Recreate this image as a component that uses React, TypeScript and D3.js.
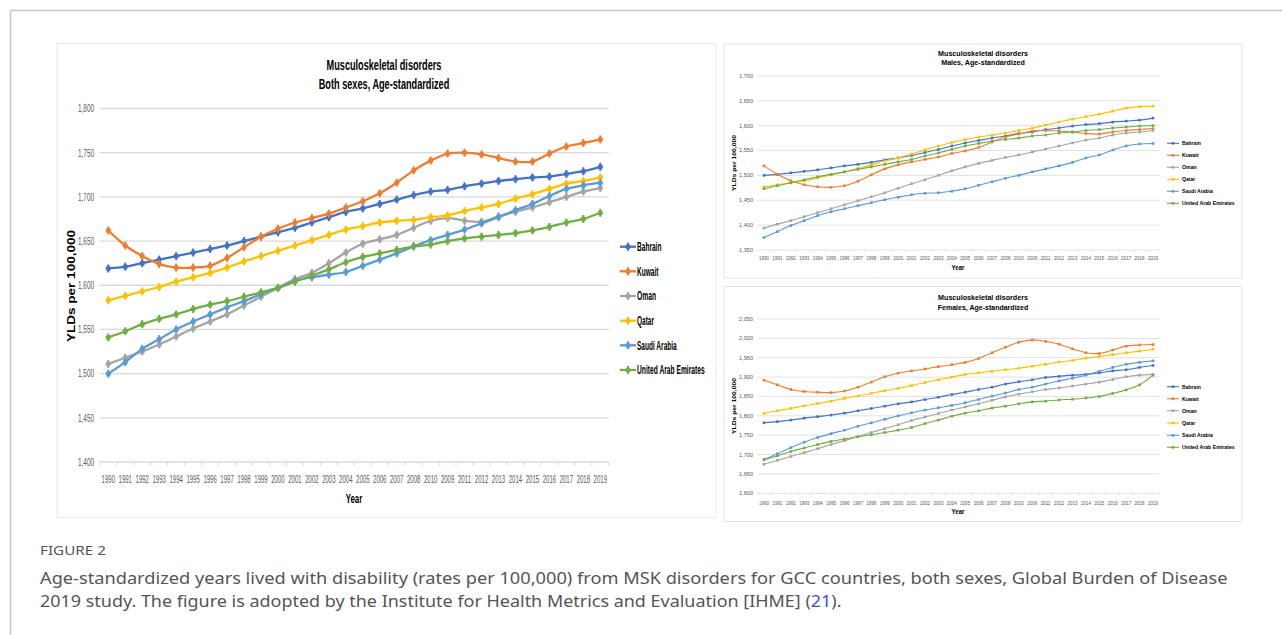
import React from "react";
import * as d3 from "d3";

// Category labels exactly as printed (2010 and 2009 are swapped in the source)
const years = [
  "1990","1991","1992","1993","1994","1995","1996","1997","1998","1999",
  "2000","2001","2002","2003","2004","2005","2006","2007","2008","2010",
  "2009","2011","2012","2013","2014","2015","2016","2017","2018","2019",
];
const countries = ["Bahrain", "Kuwait", "Oman", "Qatar", "Saudi Arabia", "United Arab Emirates"];
const colors = ["#4472C4", "#ED7D31", "#A5A5A5", "#FFC000", "#5B9BD5", "#70AD47"];

// Both sexes
const bahrainBoth = [1619,1621,1625,1629,1633,1637,1641,1645,1650,1655,1660,1665,1671,1677,1683,1687,1692,1697,1702,1706,1708,1712,1715,1718,1720,1722,1723,1726,1729,1734];
const kuwaitBoth = [1662,1645,1633,1624,1620,1620,1622,1631,1643,1655,1664,1671,1676,1681,1688,1695,1704,1716,1730,1741,1749,1750,1748,1744,1740,1740,1749,1757,1761,1765];
const omanBoth = [1511,1518,1525,1533,1542,1551,1559,1567,1577,1587,1597,1607,1614,1625,1637,1647,1652,1657,1665,1673,1676,1673,1672,1678,1683,1688,1694,1700,1706,1710];
const qatarBoth = [1583,1588,1593,1598,1604,1609,1614,1620,1627,1633,1639,1645,1651,1657,1663,1667,1671,1673,1674,1677,1679,1684,1688,1692,1698,1703,1709,1715,1718,1722];
const saudiBoth = [1500,1513,1528,1539,1550,1559,1567,1575,1582,1590,1597,1605,1609,1612,1615,1622,1629,1636,1644,1651,1657,1663,1670,1677,1685,1692,1701,1709,1713,1716];
const uaeBoth = [1541,1548,1556,1562,1567,1573,1578,1582,1587,1592,1597,1604,1611,1618,1626,1632,1636,1640,1644,1646,1650,1653,1655,1657,1659,1662,1666,1671,1675,1682];

// Males
const bahrainMale = [1500,1502,1505,1508,1511,1515,1519,1522,1526,1531,1535,1540,1546,1552,1559,1565,1570,1575,1579,1584,1587,1592,1595,1599,1602,1604,1607,1609,1611,1615];
const kuwaitMale = [1519,1502,1489,1481,1477,1476,1479,1488,1501,1513,1521,1527,1532,1537,1544,1549,1556,1567,1577,1583,1589,1590,1589,1587,1584,1583,1587,1590,1592,1594];
const omanMale = [1394,1402,1409,1417,1425,1433,1441,1449,1457,1465,1474,1483,1491,1500,1509,1517,1524,1530,1536,1541,1547,1553,1559,1565,1571,1575,1581,1585,1587,1590];
const qatarMale = [1477,1481,1485,1489,1495,1501,1507,1514,1521,1529,1535,1543,1551,1559,1566,1572,1577,1581,1585,1590,1595,1601,1607,1613,1618,1623,1629,1635,1638,1639];
const saudiMale = [1375,1387,1399,1409,1419,1427,1433,1439,1445,1451,1456,1461,1464,1465,1468,1473,1480,1487,1494,1500,1507,1513,1519,1526,1535,1541,1551,1559,1563,1564];
const uaeMale = [1473,1479,1485,1491,1497,1502,1507,1512,1517,1522,1527,1532,1539,1545,1552,1559,1564,1569,1572,1575,1579,1581,1585,1587,1590,1592,1595,1597,1599,1600];

// Females
const bahrainFemale = [1782,1785,1789,1794,1798,1802,1807,1813,1819,1825,1831,1836,1842,1848,1855,1861,1868,1874,1882,1888,1893,1899,1902,1905,1907,1911,1916,1919,1925,1930];
const kuwaitFemale = [1892,1880,1868,1863,1861,1860,1864,1874,1887,1901,1910,1916,1921,1927,1932,1938,1948,1963,1977,1990,1996,1992,1985,1973,1963,1961,1970,1980,1983,1984];
const omanFemale = [1675,1685,1695,1705,1715,1726,1736,1746,1757,1767,1777,1788,1797,1806,1815,1823,1831,1840,1849,1856,1862,1868,1872,1877,1882,1887,1894,1901,1905,1907];
const qatarFemale = [1806,1813,1819,1826,1832,1838,1845,1851,1858,1865,1871,1878,1886,1893,1900,1907,1911,1915,1919,1923,1928,1933,1939,1943,1949,1953,1958,1963,1967,1972];
const saudiFemale = [1687,1702,1718,1732,1744,1754,1763,1773,1782,1791,1800,1808,1815,1821,1827,1834,1842,1851,1859,1868,1874,1882,1890,1897,1905,1915,1925,1933,1938,1942];
const uaeFemale = [1687,1697,1708,1717,1726,1734,1740,1746,1751,1757,1763,1770,1780,1789,1799,1807,1813,1820,1825,1831,1836,1838,1841,1843,1846,1850,1858,1867,1880,1905];

const titleLine1 = "Musculoskeletal disorders";
const titleBoth = "Both sexes, Age-standardized";
const titleMale = "Males, Age-standardized";
const titleFemale = "Females, Age-standardized";
const yAxisTitle = "YLDs per 100,000";
const xAxisTitle = "Year";

const bothSeries = [bahrainBoth, kuwaitBoth, omanBoth, qatarBoth, saudiBoth, uaeBoth];
const maleSeries = [bahrainMale, kuwaitMale, omanMale, qatarMale, saudiMale, uaeMale];
const femaleSeries = [bahrainFemale, kuwaitFemale, omanFemale, qatarFemale, saudiFemale, uaeFemale];

const NARROW = "'Liberation Sans Narrow', 'Liberation Sans', Arial, sans-serif";
const SANS = "'Liberation Sans', Arial, sans-serif";
const CAPTION = "'Noto Sans', 'Open Sans', sans-serif";

let measureCtx: CanvasRenderingContext2D | null = null;
function natWidth(str: string, size: number, family: string, weight: string): number {
  if (!measureCtx && typeof document !== "undefined") {
    measureCtx = document.createElement("canvas").getContext("2d");
  }
  if (!measureCtx) return str.length * size * 0.55;
  measureCtx.font = `${weight} ${size}px ${family}`;
  return measureCtx.measureText(str).width || str.length * size * 0.55;
}

type FitProps = {
  x: number; y: number; width: number; size: number; family: string;
  weight?: string; anchor?: "start" | "middle" | "end"; fill?: string; rotate?: number;
  children: string;
};
function FitText({ x, y, width, size, family, weight = "normal", anchor = "start", fill = "#000", rotate = 0, children }: FitProps) {
  const nat = natWidth(children, size, family, weight);
  const s = width / nat;
  const rot = rotate ? ` rotate(${rotate})` : "";
  return (
    <text
      transform={`translate(${x},${y})${rot} scale(${s.toFixed(4)},1)`}
      dy="0.35em"
      textAnchor={anchor}
      fontSize={size}
      fontFamily={family}
      fontWeight={weight}
      fill={fill}
    >
      {children}
    </text>
  );
}

type Cfg = {
  big: boolean;
  xFirst: number; xLast: number;
  yTop: number; yBottom: number;
  domain: [number, number]; tickStep: number;
  tickLabelX: number; tickFont: number; tickLen: number;
  yearY: number; yearFont: number; yearLen: number;
  titleX: number; titleY1: number; titleY2: number; titleFont: number; titleLen1: number; titleLen2: number;
  subtitle: string;
  yTitleX: number; yTitleY: number; yTitleFont: number; yTitleLen: number;
  xTitleX: number; xTitleY: number; xTitleFont: number; xTitleLen: number;
  legX0: number; legX1: number; legTextX: number; legYs: number[]; legFont: number; legLens: number[];
  lineW: number;
  font: string;
};

function Marker({ cx, cy, color, big }: { cx: number; cy: number; color: string; big: boolean }) {
  if (big) {
    return (
      <g>
        <line x1={cx} x2={cx} y1={cy - 4} y2={cy + 4} stroke={color} strokeWidth={2} />
        <circle cx={cx} cy={cy} r={2.6} fill={color} />
      </g>
    );
  }
  return <rect x={cx - 1.3} y={cy - 1.3} width={2.6} height={2.6} fill={color} />;
}

function Panel({ cfg, series }: { cfg: Cfg; series: number[][] }) {
  const x = d3.scalePoint<string>().domain(years).range([cfg.xFirst, cfg.xLast]);
  const step = x.step();
  const left = cfg.xFirst - step / 2;
  const right = cfg.xLast + step / 2;
  const y = d3.scaleLinear().domain(cfg.domain).range([cfg.yBottom, cfg.yTop]);
  const ticks = d3.range(cfg.domain[0], cfg.domain[1] + 1, cfg.tickStep);
  const fmt = d3.format(",");
  const line = d3
    .line<number>()
    .x((_, i) => x(years[i]) as number)
    .y((d) => y(d))
    .curve(d3.curveCatmullRom.alpha(0.5));
  const boundaries = d3.range(0, years.length + 1).map((i) => left + i * step);

  return (
    <g>
      {ticks.map((t) => (
        <g key={t}>
          <line x1={left} x2={right} y1={y(t)} y2={y(t)} stroke="#d9d9d9" strokeWidth={cfg.big ? 1.3 : 0.8} />
          <FitText x={cfg.tickLabelX} y={y(t)} width={cfg.tickLen} size={cfg.tickFont} family={cfg.font} anchor="end" fill="#595959">
            {fmt(t)}
          </FitText>
        </g>
      ))}
      {boundaries.map((bx, i) => (
        <line key={i} x1={bx} x2={bx} y1={cfg.yBottom} y2={cfg.yBottom + (cfg.big ? 4 : 2.5)} stroke="#d9d9d9" strokeWidth={cfg.big ? 1 : 0.6} />
      ))}
      {years.map((yr) => (
        <FitText key={yr} x={x(yr) as number} y={cfg.yearY} width={cfg.yearLen} size={cfg.yearFont} family={cfg.font} anchor="middle" fill="#595959">
          {yr}
        </FitText>
      ))}
      {series.map((s, k) => (
        <g key={countries[k]}>
          <path d={line(s) as string} fill="none" stroke={colors[k]} strokeWidth={cfg.lineW} />
          {s.map((v, i) => (
            <Marker key={i} cx={x(years[i]) as number} cy={y(v)} color={colors[k]} big={cfg.big} />
          ))}
        </g>
      ))}
      <FitText x={cfg.titleX} y={cfg.titleY1} width={cfg.titleLen1} size={cfg.titleFont} family={cfg.font} weight="bold" anchor="middle">
        {titleLine1}
      </FitText>
      <FitText x={cfg.titleX} y={cfg.titleY2} width={cfg.titleLen2} size={cfg.titleFont} family={cfg.font} weight="bold" anchor="middle">
        {cfg.subtitle}
      </FitText>
      <FitText x={cfg.yTitleX} y={cfg.yTitleY} width={cfg.yTitleLen} size={cfg.yTitleFont} family={SANS} weight="bold" anchor="middle" rotate={-90}>
        {yAxisTitle}
      </FitText>
      <FitText x={cfg.xTitleX} y={cfg.xTitleY} width={cfg.xTitleLen} size={cfg.xTitleFont} family={cfg.font} weight="bold" anchor="middle">
        {xAxisTitle}
      </FitText>
      {countries.map((c, k) => (
        <g key={c}>
          <line x1={cfg.legX0} x2={cfg.legX1} y1={cfg.legYs[k]} y2={cfg.legYs[k]} stroke={colors[k]} strokeWidth={cfg.lineW} />
          <Marker cx={(cfg.legX0 + cfg.legX1) / 2} cy={cfg.legYs[k]} color={colors[k]} big={cfg.big} />
          <FitText x={cfg.legTextX} y={cfg.legYs[k]} width={cfg.legLens[k]} size={cfg.legFont} family={cfg.font} weight="bold">
            {c}
          </FitText>
        </g>
      ))}
    </g>
  );
}

const mainCfg: Cfg = {
  big: true,
  xFirst: 108.3, xLast: 600.3,
  yTop: 108.5, yBottom: 462,
  domain: [1400, 1800], tickStep: 50,
  tickLabelX: 94, tickFont: 11, tickLen: 16,
  yearY: 479, yearFont: 11, yearLen: 13.4,
  titleX: 384, titleY1: 65, titleY2: 83.5, titleFont: 15, titleLen1: 115, titleLen2: 131,
  subtitle: titleBoth,
  yTitleX: 71, yTitleY: 286, yTitleFont: 11, yTitleLen: 112,
  xTitleX: 354, xTitleY: 498, xTitleFont: 13, xTitleLen: 16.5,
  legX0: 620, legX1: 636, legTextX: 637, legYs: [246.7, 271.3, 296, 320.7, 345.3, 370], legFont: 12,
  legLens: [24.5, 21.4, 19, 17, 40, 68],
  lineW: 2.3,
  font: NARROW,
};

const maleCfg: Cfg = {
  big: false,
  xFirst: 764, xLast: 1153,
  yTop: 75.8, yBottom: 250,
  domain: [1350, 1700], tickStep: 50,
  tickLabelX: 753, tickFont: 5.5, tickLen: 14,
  yearY: 258.3, yearFont: 5.5, yearLen: 10,
  titleX: 983, titleY1: 53.3, titleY2: 62.7, titleFont: 7.5, titleLen1: 90, titleLen2: 84,
  subtitle: titleMale,
  yTitleX: 733.5, yTitleY: 163, yTitleFont: 6, yTitleLen: 56,
  xTitleX: 958, xTitleY: 267.7, xTitleFont: 6.5, xTitleLen: 13,
  legX0: 1167, legX1: 1179, legTextX: 1182, legYs: [143.3, 155.3, 167.3, 179.3, 191.3, 203.3], legFont: 6,
  legLens: [19, 16.7, 14.8, 13.3, 31, 53],
  lineW: 1.1,
  font: SANS,
};

const femaleCfg: Cfg = {
  ...maleCfg,
  yTop: 319, yBottom: 493.3,
  domain: [1600, 2050],
  yearY: 502.7,
  titleY1: 297, titleY2: 307.5, titleLen2: 91,
  subtitle: titleFemale,
  yTitleY: 406,
  xTitleY: 511.5,
  legYs: [386.7, 398.7, 410.7, 423, 435.3, 447.3],
};

const captionLabel = "FIGURE 2";
const captionLine1 = "Age-standardized years lived with disability (rates per 100,000) from MSK disorders for GCC countries, both sexes, Global Burden of Disease";
const captionLine2a = "2019 study. The figure is adopted by the Institute for Health Metrics and Evaluation [IHME] (";
const captionRef = "21";
const captionLine2b = ").";

export default function App() {
  const c2Full = captionLine2a + captionRef + captionLine2b;
  const c2Scale = 802 / natWidth(c2Full, 16, CAPTION, "normal");
  return (
    <svg
      width={1282}
      height={635}
      style={{ position: "absolute", left: 0, top: 0, background: "#fff" }}
    >
      <rect x={10.5} y={10.5} width={1400} height={800} fill="none" stroke="#c6c6c6" strokeWidth={1.5} />
      <rect x={57} y={43.5} width={659} height={474} fill="#fff" stroke="#ebebeb" strokeWidth={1.2} />
      <rect x={724} y={44} width={518} height={234} fill="#fff" stroke="#e3e3e3" strokeWidth={1} />
      <rect x={724} y={286.5} width={518} height={235} fill="#fff" stroke="#e3e3e3" strokeWidth={1} />
      <Panel cfg={mainCfg} series={bothSeries} />
      <Panel cfg={maleCfg} series={maleSeries} />
      <Panel cfg={femaleCfg} series={femaleSeries} />
      <FitText x={40} y={551} width={66} size={12.5} family={CAPTION} fill="#555">
        {captionLabel}
      </FitText>
      <FitText x={40} y={578.5} width={1189} size={16} family={CAPTION} fill="#555">
        {captionLine1}
      </FitText>
      <text
        transform={`translate(40,601.5) scale(${c2Scale.toFixed(4)},1)`}
        dy="0.35em"
        fontSize={16}
        fill="#555"
        fontFamily={CAPTION}
      >
        {captionLine2a}
        <tspan fill="#3d4fc0">{captionRef}</tspan>
        {captionLine2b}
      </text>
    </svg>
  );
}
